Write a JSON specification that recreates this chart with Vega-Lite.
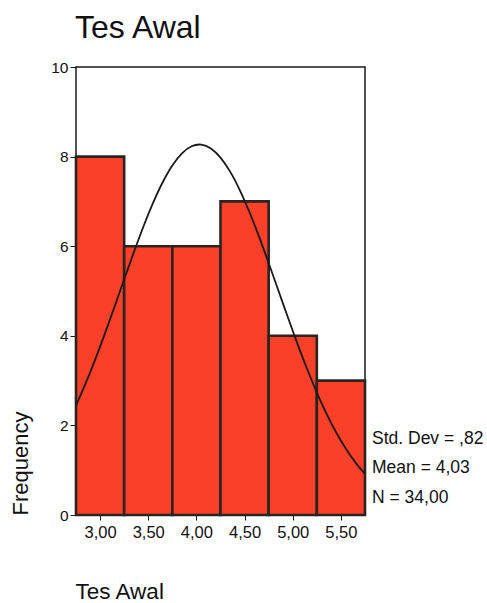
{
  "$schema": "https://vega.github.io/schema/vega-lite/v6.json",
  "autosize": {"type": "none"},
  "padding": {"left": 76, "top": 67, "right": 122, "bottom": 88},
  "width": 289,
  "height": 448,
  "background": "white",
  "config": {
    "font": "Liberation Sans",
    "view": {"stroke": "#1a1a1a", "strokeWidth": 1.5},
    "axis": {"labelColor": "#111", "titleColor": "#111", "tickColor": "#1a1a1a", "grid": false, "domain": false, "titleFontWeight": "normal"}
  },
  "title": {"text": "Tes Awal", "anchor": "start", "frame": "group", "fontSize": 32, "fontWeight": "normal", "color": "#111", "baseline": "alphabetic", "offset": 22, "dx": -1, "dy": 32},
  "layer": [
    {
      "data": {"values": [
        {"lo": 2.75, "hi": 3.25, "count": 8},
        {"lo": 3.25, "hi": 3.75, "count": 6},
        {"lo": 3.75, "hi": 4.25, "count": 6},
        {"lo": 4.25, "hi": 4.75, "count": 7},
        {"lo": 4.75, "hi": 5.25, "count": 4},
        {"lo": 5.25, "hi": 5.75, "count": 3}
      ]},
      "mark": {"type": "rect", "fill": "#fa4028", "stroke": "#2a2420", "strokeWidth": 2.6},
      "encoding": {
        "x": {"field": "lo", "type": "quantitative",
          "scale": {"domain": [2.75, 5.75], "nice": false, "zero": false},
          "axis": {"values": [3, 3.5, 4, 4.5, 5, 5.5], "labelExpr": "replace(format(datum.value, '.2f'), '.', ',')", "labelFontSize": 16.5, "tickSize": 5, "labelPadding": 4, "title": "Tes Awal", "titleFontSize": 22.5, "titleAnchor": "start", "titleAlign": "left", "titleX": -1, "titleY": 83, "titleBaseline": "alphabetic"}},
        "x2": {"field": "hi"},
        "y": {"field": "count", "type": "quantitative",
          "scale": {"domain": [0, 10], "nice": false},
          "axis": {"values": [0, 2, 4, 6, 8, 10], "labelFontSize": 15.5, "tickSize": 6, "labelPadding": 2, "title": "Frequency", "titleFontSize": 22, "titleAngle": -90, "titleAlign": "left", "titleBaseline": "middle", "titleX": -56, "titleY": 448}},
        "y2": {"datum": 0}
      }
    },
    {
      "data": {"values": [
        {"x": 2.75, "f": 2.445}, {"x": 2.85, "f": 2.937}, {"x": 2.95, "f": 3.474},
        {"x": 3.05, "f": 4.049}, {"x": 3.15, "f": 4.650}, {"x": 3.25, "f": 5.261},
        {"x": 3.35, "f": 5.863}, {"x": 3.45, "f": 6.440}, {"x": 3.55, "f": 6.968},
        {"x": 3.65, "f": 7.428}, {"x": 3.75, "f": 7.802}, {"x": 3.85, "f": 8.073},
        {"x": 3.95, "f": 8.231}, {"x": 4.03, "f": 8.270}, {"x": 4.05, "f": 8.267},
        {"x": 4.15, "f": 8.182}, {"x": 4.25, "f": 7.978}, {"x": 4.35, "f": 7.664},
        {"x": 4.45, "f": 7.254}, {"x": 4.55, "f": 6.763}, {"x": 4.65, "f": 6.214},
        {"x": 4.75, "f": 5.624}, {"x": 4.85, "f": 5.016}, {"x": 4.95, "f": 4.407},
        {"x": 5.05, "f": 3.815}, {"x": 5.15, "f": 3.253}, {"x": 5.25, "f": 2.734},
        {"x": 5.35, "f": 2.263}, {"x": 5.45, "f": 1.846}, {"x": 5.55, "f": 1.484},
        {"x": 5.65, "f": 1.175}, {"x": 5.75, "f": 0.916}
      ]},
      "mark": {"type": "line", "color": "#1a1a1a", "strokeWidth": 1.8, "interpolate": "monotone"},
      "encoding": {
        "x": {"field": "x", "type": "quantitative"},
        "y": {"field": "f", "type": "quantitative"}
      }
    },
    {
      "data": {"values": [{"stats": ["Std. Dev = ,82", "Mean = 4,03", "N = 34,00"]}]},
      "mark": {"type": "text", "align": "left", "baseline": "middle", "dx": 7, "fontSize": 17.5, "lineHeight": 29.5, "color": "#111"},
      "encoding": {
        "x": {"datum": 5.75},
        "y": {"datum": 1.70},
        "text": {"field": "stats"}
      }
    }
  ]
}
